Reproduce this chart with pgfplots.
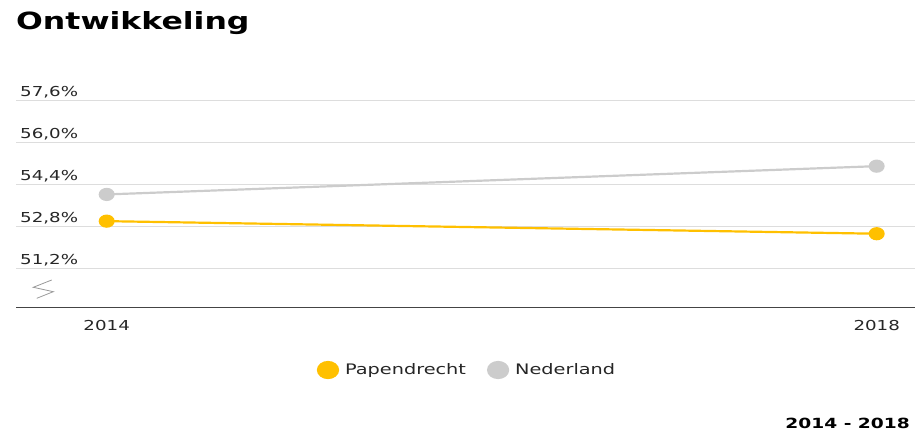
\documentclass[border=0pt]{standalone}
\usepackage{fontspec}
\setmainfont[FakeStretch=1.33]{DejaVu Sans}
\usepackage{pgfplots}
\pgfplotsset{compat=1.18}
\definecolor{pap}{HTML}{FFC000}
\definecolor{ned}{HTML}{CCCCCC}
\definecolor{gridc}{HTML}{DDDDDD}
\definecolor{axisc}{HTML}{444444}
\definecolor{txt}{HTML}{262626}
\begin{document}
\begin{tikzpicture}[x=1pt,y=1pt]
\path[use as bounding box] (0,0) rectangle (919,-433);
\node[anchor=base west, inner sep=0pt, font=\bfseries\fontsize{23.7}{28}\selectfont] at (16,-30) {Ontwikkeling};
\begin{axis}[
  at={(16pt,-307.3pt)}, anchor=south west,
  scale only axis, width=899pt, height=206.6pt,
  xmin=2013.529, xmax=2018.199, ymin=49.71, ymax=57.6,
  axis x line*=bottom, axis y line*=left,
  x axis line style={draw=axisc, line width=1.2pt},
  y axis line style={draw=none},
  ytick={51.2,52.8,54.4,56.0,57.6},
  yticklabels={{51,2\%},{52,8\%},{54,4\%},{56,0\%},{57,6\%}},
  ymajorgrids, grid style={draw=gridc, line width=1pt},
  major tick length=0pt,
  xtick={2014,2018}, xticklabels={2014,2018},
  tick label style={font=\fontsize{13.7}{16}\selectfont, text=txt, inner sep=0pt},
  yticklabel style={anchor=base west, xshift=4pt, yshift=4pt},
  xticklabel style={anchor=base, yshift=-22.7pt},
  clip=false,
  legend columns=2,
  legend style={at={(0.5006,-0.3035)}, anchor=center, draw=none, fill=none,
    font=\fontsize{14.5}{17}\selectfont, text=txt,
    nodes={inner sep=0pt, anchor=west},
    /tikz/every odd column/.append style={column sep=6pt},
    /tikz/every even column/.append style={column sep=21pt}},
  legend image code/.code={\fill[#1] (0pt,0pt) ellipse (10pt and 8pt);},
]
\addplot[pap, line width=2.2pt, mark=*, mark size=5.5pt, mark options={xscale=1.25}] coordinates {(2014,53.00) (2018,52.52)};
\addlegendentry{Papendrecht}
\addplot[ned, line width=2.2pt, mark=*, mark size=5.5pt, mark options={xscale=1.25}] coordinates {(2014,54.02) (2018,55.10)};
\addlegendentry{Nederland}
\end{axis}
\draw[gray!80, line width=0.8pt] (51.7,-280) -- (33.3,-287.3) -- (53.3,-291.7) -- (36.7,-298.3);
\node[anchor=base east, inner sep=0pt, font=\bfseries\fontsize{14}{17}\selectfont] at (910,-428.3) {2014 - 2018};
\end{tikzpicture}
\end{document}
